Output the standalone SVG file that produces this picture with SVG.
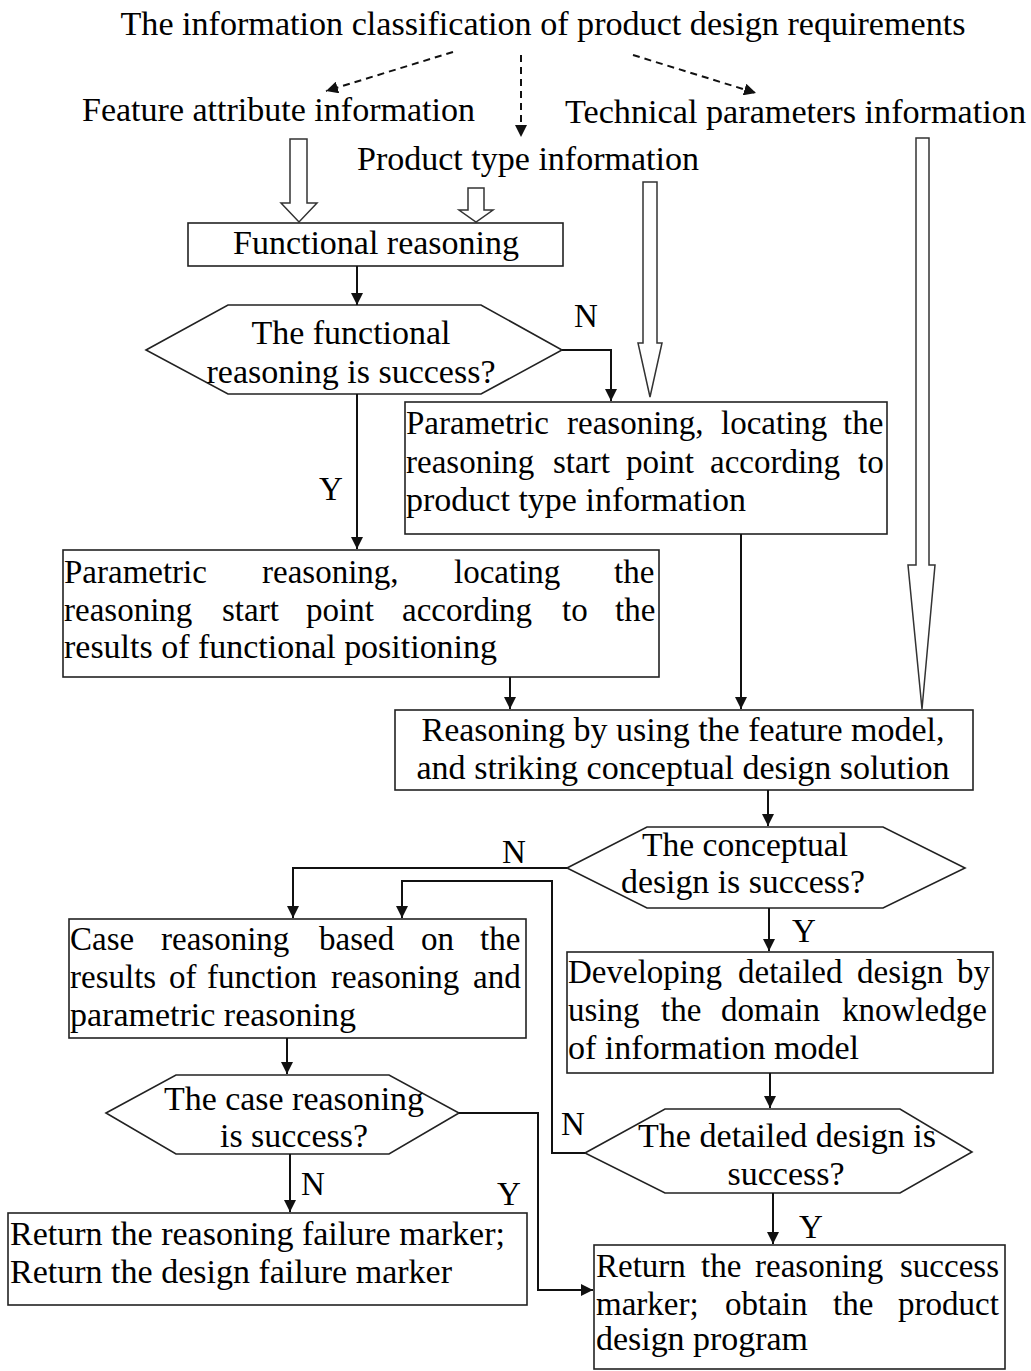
<svg xmlns="http://www.w3.org/2000/svg" width="1031" height="1371" viewBox="0 0 1031 1371">
<style>
.t{font-family:"Liberation Serif","Times New Roman",serif;font-size:33px;fill:#000}
.m{text-anchor:middle}
.box{fill:#fff;stroke:#222;stroke-width:1.6}
.hollow{fill:#fff;stroke:#333;stroke-width:1.5}
.conn{fill:none;stroke:#111;stroke-width:2}
.dash{fill:none;stroke:#111;stroke-width:2;stroke-dasharray:7 5}
</style>
<defs>
<marker id="ah" markerUnits="userSpaceOnUse" markerWidth="12" markerHeight="12" viewBox="0 0 12 12" refX="12" refY="6" orient="auto">
<path d="M0,0 L12,6 L0,12 z" fill="#111"/>
</marker>
</defs>
<rect width="1031" height="1371" fill="#fff"/>

<g id="title"><text class="t m" x="543" y="35" textLength="845" lengthAdjust="spacingAndGlyphs">The information classification of product design requirements</text></g>
<g id="feature-info"><text class="t" x="82" y="121" textLength="393" lengthAdjust="spacingAndGlyphs">Feature attribute information</text></g>
<g id="tech-info"><text class="t" x="565" y="123" textLength="461" lengthAdjust="spacingAndGlyphs">Technical parameters information</text></g>
<g id="type-info"><text class="t" x="357" y="170" textLength="342" lengthAdjust="spacingAndGlyphs">Product type information</text></g>

<g id="hollow-arrows">
<polygon class="hollow" points="290,139 307,139 307,203 317,203 299,222 281,203 290,203"/>
<polygon class="hollow" points="468,188 484,188 484,210 493,210 476,222 459,210 468,210"/>
<polygon class="hollow" points="643,182 657,182 657,343 662,343 650,397 638,343 643,343"/>
<polygon class="hollow" points="916,138 929,138 929,565 935,565 922,709 908,565 916,565"/>
</g>

<g id="functional-reasoning">
<rect class="box" x="188" y="223" width="375" height="43"/>
<text class="t m" x="376" y="254" textLength="286" lengthAdjust="spacingAndGlyphs">Functional reasoning</text>
</g>

<g id="functional-decision">
<polygon class="box" points="146,350 228,305 481,305 562,350 481,394 228,394"/>
<text class="t m" x="351" y="344" textLength="199" lengthAdjust="spacingAndGlyphs">The functional</text>
<text class="t m" x="351" y="383" textLength="289" lengthAdjust="spacingAndGlyphs">reasoning is success?</text>
</g>

<g id="param-type">
<rect class="box" x="405" y="402" width="482" height="132"/>
<text class="t" y="434"><tspan x="406">Parametric</tspan><tspan x="567">reasoning,</tspan><tspan x="721">locating</tspan><tspan x="843">the</tspan></text>
<text class="t" y="473"><tspan x="406">reasoning</tspan><tspan x="553">start</tspan><tspan x="626">point</tspan><tspan x="710">according</tspan><tspan x="858">to</tspan></text>
<text class="t" x="406" y="511" textLength="340" lengthAdjust="spacingAndGlyphs">product type information</text>
</g>

<g id="param-func">
<rect class="box" x="63" y="550" width="596" height="127"/>
<text class="t" y="583"><tspan x="64">Parametric</tspan><tspan x="262">reasoning,</tspan><tspan x="454">locating</tspan><tspan x="614">the</tspan></text>
<text class="t" y="621"><tspan x="64">reasoning</tspan><tspan x="222">start</tspan><tspan x="306">point</tspan><tspan x="402">according</tspan><tspan x="562">to</tspan><tspan x="615">the</tspan></text>
<text class="t" x="64" y="658" textLength="433" lengthAdjust="spacingAndGlyphs">results of functional positioning</text>
</g>

<g id="feature-model">
<rect class="box" x="395" y="710" width="578" height="80"/>
<text class="t m" x="683" y="741" textLength="523" lengthAdjust="spacingAndGlyphs">Reasoning by using the feature model,</text>
<text class="t m" x="683" y="779" textLength="533" lengthAdjust="spacingAndGlyphs">and striking conceptual design solution</text>
</g>

<g id="conceptual-decision">
<polygon class="box" points="567,868 647,827 883,827 965,868 883,908 647,908"/>
<text class="t m" x="745" y="856" textLength="206" lengthAdjust="spacingAndGlyphs">The conceptual</text>
<text class="t m" x="743" y="893" textLength="244" lengthAdjust="spacingAndGlyphs">design is success?</text>
</g>

<g id="case-reasoning">
<rect class="box" x="69" y="919" width="457" height="119"/>
<text class="t" y="950"><tspan x="70">Case</tspan><tspan x="161">reasoning</tspan><tspan x="319">based</tspan><tspan x="421">on</tspan><tspan x="480">the</tspan></text>
<text class="t" y="988"><tspan x="70">results</tspan><tspan x="169">of</tspan><tspan x="207">function</tspan><tspan x="331">reasoning</tspan><tspan x="473">and</tspan></text>
<text class="t" x="70" y="1026" textLength="286" lengthAdjust="spacingAndGlyphs">parametric reasoning</text>
</g>

<g id="detailed-design">
<rect class="box" x="567" y="952" width="426" height="121"/>
<text class="t" y="983"><tspan x="568">Developing</tspan><tspan x="738">detailed</tspan><tspan x="857">design</tspan><tspan x="957">by</tspan></text>
<text class="t" y="1021"><tspan x="568">using</tspan><tspan x="661">the</tspan><tspan x="721">domain</tspan><tspan x="842">knowledge</tspan></text>
<text class="t" x="568" y="1059" textLength="291" lengthAdjust="spacingAndGlyphs">of information model</text>
</g>

<g id="detailed-decision">
<polygon class="box" points="585,1153 665,1109 900,1109 972,1152 900,1193 665,1193"/>
<text class="t m" x="787" y="1147" textLength="298" lengthAdjust="spacingAndGlyphs">The detailed design is</text>
<text class="t m" x="786" y="1185" textLength="117" lengthAdjust="spacingAndGlyphs">success?</text>
</g>

<g id="case-decision">
<polygon class="box" points="106,1113 176,1075 389,1075 459,1113 389,1154 176,1154"/>
<text class="t m" x="294" y="1110" textLength="260" lengthAdjust="spacingAndGlyphs">The case reasoning</text>
<text class="t m" x="294" y="1147" textLength="148" lengthAdjust="spacingAndGlyphs">is success?</text>
</g>

<g id="failure">
<rect class="box" x="8" y="1213" width="519" height="92"/>
<text class="t" x="10" y="1245" textLength="495" lengthAdjust="spacingAndGlyphs">Return the reasoning failure marker;</text>
<text class="t" x="10" y="1283" textLength="442" lengthAdjust="spacingAndGlyphs">Return the design failure marker</text>
</g>

<g id="success">
<rect class="box" x="594" y="1245" width="411" height="124"/>
<text class="t" y="1277"><tspan x="596">Return</tspan><tspan x="701">the</tspan><tspan x="755">reasoning</tspan><tspan x="900">success</tspan></text>
<text class="t" y="1315"><tspan x="596">marker;</tspan><tspan x="725">obtain</tspan><tspan x="833">the</tspan><tspan x="898">product</tspan></text>
<text class="t" x="596" y="1350" textLength="212" lengthAdjust="spacingAndGlyphs">design program</text>
</g>

<g id="connectors">
<path class="dash" d="M453,52 L326,91" marker-end="url(#ah)"/>
<path class="dash" d="M521,55 L521,137" marker-end="url(#ah)"/>
<path class="dash" d="M633,55 L756,93" marker-end="url(#ah)"/>
<path class="conn" d="M357,266 L357,305" marker-end="url(#ah)"/>
<path class="conn" d="M562,350 L611,350 L611,401" marker-end="url(#ah)"/>
<path class="conn" d="M357,394 L357,549" marker-end="url(#ah)"/>
<path class="conn" d="M510,677 L510,709" marker-end="url(#ah)"/>
<path class="conn" d="M741,534 L741,709" marker-end="url(#ah)"/>
<path class="conn" d="M768,790 L768,826" marker-end="url(#ah)"/>
<path class="conn" d="M567,868 L293,868 L293,918" marker-end="url(#ah)"/>
<path class="conn" d="M585,1153 L552,1153 L552,881 L402,881 L402,918" marker-end="url(#ah)"/>
<path class="conn" d="M769,908 L769,951" marker-end="url(#ah)"/>
<path class="conn" d="M770,1073 L770,1108" marker-end="url(#ah)"/>
<path class="conn" d="M773,1193 L773,1244" marker-end="url(#ah)"/>
<path class="conn" d="M287,1038 L287,1074" marker-end="url(#ah)"/>
<path class="conn" d="M290,1154 L290,1212" marker-end="url(#ah)"/>
<path class="conn" d="M459,1113 L538,1113 L538,1290 L593,1290" marker-end="url(#ah)" stroke-width="2.5"/>
<text class="t" x="574" y="327">N</text>
<text class="t" x="319" y="500">Y</text>
<text class="t" x="502" y="863">N</text>
<text class="t" x="792" y="942">Y</text>
<text class="t" x="561" y="1135">N</text>
<text class="t" x="301" y="1195">N</text>
<text class="t" x="497" y="1205">Y</text>
<text class="t" x="799" y="1238">Y</text>
</g>
</svg>
